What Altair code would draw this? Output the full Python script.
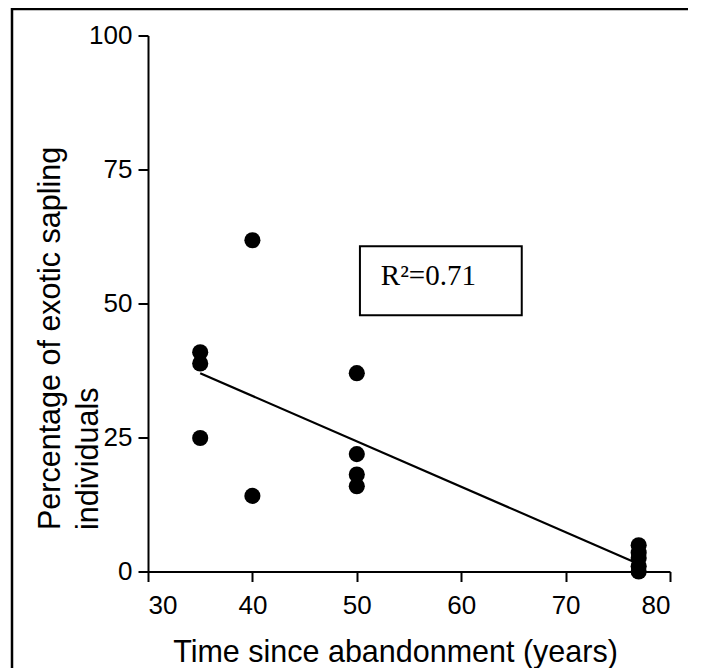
import altair as alt
import pandas as pd

# ---- data ----
years = [35, 35, 35, 40, 40, 50, 50, 50, 50, 77, 77, 77, 77, 77]
exotic_pct = [40.9, 38.8, 24.9, 61.8, 14.1, 37.0, 21.9, 18.1, 15.9, 4.9, 3.5, 2.5, 1.0, 0.0]

fit_years = [35, 77]
fit_pct = [37.0, 1.4]

x_ticks = [30, 40, 50, 60, 70, 80]
y_ticks = [0, 25, 50, 75, 100]

r2_label = ["R\u00b2=0.71"]
r2_x = [52.3]
r2_y = [53.45]
box_x = [50.3]
box_x2 = [65.8]
box_y = [60.7]
box_y2 = [47.8]

x_title = "Time since abandonment (years)"
y_title = ["Percentage of exotic sapling", "individuals"]

# ---- tables ----
pts = pd.DataFrame({"years": years, "pct": exotic_pct})
fit = pd.DataFrame({"years": fit_years, "pct": fit_pct})
ann = pd.DataFrame({"label": r2_label, "x": r2_x, "y": r2_y,
                    "bx": box_x, "bx2": box_x2, "by": box_y, "by2": box_y2})
one = pd.DataFrame({"a": [0]})

W, H = 522, 536
xs = alt.Scale(domain=[30, 80], nice=False, zero=False)
ys = alt.Scale(domain=[0, 100], nice=False, zero=False)

x_axis = alt.Axis(values=x_ticks, title=x_title, labelPadding=11,
                  titleX=247, titleY=66, titleAlign="center", titleBaseline="top")
y_axis = alt.Axis(values=y_ticks, title=y_title, labelPadding=6,
                  titleAngle=270, titleAlign="left", titleBaseline="top",
                  titleX=-113, titleY=494, titleLineHeight=38)

# outer figure frame: top and left edges (right/bottom lie outside the picture)
frame_top = alt.Chart(one).mark_rule(color="black", strokeWidth=2.5).encode(
    x=alt.value(-137), x2=alt.value(540), y=alt.value(-26.5))
frame_left = alt.Chart(one).mark_rule(color="black", strokeWidth=2.5).encode(
    x=alt.value(-136), y=alt.value(-27.5), y2=alt.value(640))

box = alt.Chart(ann).mark_rect(fill="white", stroke="black", strokeWidth=2).encode(
    x=alt.X("bx:Q", scale=xs, axis=x_axis), x2="bx2:Q",
    y=alt.Y("by:Q", scale=ys, axis=y_axis), y2="by2:Q")

line = alt.Chart(fit).mark_line(color="black", strokeWidth=2.2).encode(
    x=alt.X("years:Q", scale=xs, axis=x_axis),
    y=alt.Y("pct:Q", scale=ys, axis=y_axis))

points = alt.Chart(pts).mark_circle(size=260, color="black", opacity=1).encode(
    x=alt.X("years:Q", scale=xs, axis=x_axis),
    y=alt.Y("pct:Q", scale=ys, axis=y_axis))

text = alt.Chart(ann).mark_text(font="Liberation Serif", fontSize=29, color="black",
                                align="left", baseline="alphabetic").encode(
    x=alt.X("x:Q", scale=xs, axis=x_axis),
    y=alt.Y("y:Q", scale=ys, axis=y_axis),
    text="label:N")

chart = alt.layer(frame_top, frame_left, box, line, points, text).properties(
    width=W, height=H,
    autosize=alt.AutoSizeParams(type="none"),
    padding={"left": 140, "top": 27.5, "right": 22, "bottom": 96},
    background="white",
).configure_view(stroke=None).configure_axis(
    grid=False,
    domainColor="black", domainWidth=2,
    tickColor="black", tickWidth=2, tickSize=10,
    labelFont="Liberation Sans", labelFontSize=26, labelColor="black",
    titleFont="Liberation Sans", titleFontSize=30.5, titleFontWeight="normal",
    titleColor="black",
)

chart.save("out.html", embed_options={"renderer": "svg", "actions": False})
